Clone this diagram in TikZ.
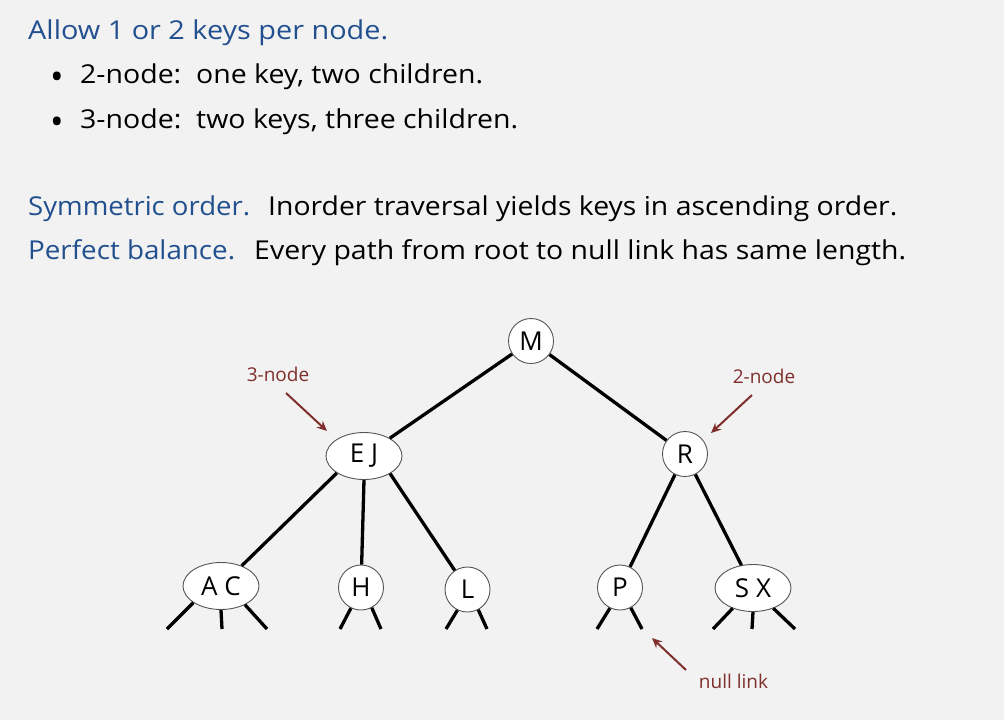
\documentclass[tikz,border=0pt]{standalone}
\usepackage{fontspec}
\setmainfont{Open Sans}
\usetikzlibrary{shapes.geometric,arrows.meta}
\definecolor{bg}{HTML}{F2F2F2}
\definecolor{titleblue}{HTML}{22508F}
\definecolor{annot}{HTML}{7F2F2C}
\definecolor{nodeborder}{HTML}{555555}
\newcommand{\fitw}[2]{\resizebox{#1}{\height}{#2}}
\tikzset{
  txt/.style={anchor=base west,inner sep=0pt,font=\fontsize{26}{30}\selectfont},
  bul/.style={anchor=center,inner sep=0pt,font=\fontsize{36}{36}\selectfont},
  knode/.style={circle,draw=nodeborder,fill=white,line width=0.9pt,minimum size=45pt,inner sep=0pt,font=\fontsize{26}{28}\selectfont},
  kknode/.style={ellipse,draw=nodeborder,fill=white,line width=0.9pt,minimum width=76pt,minimum height=47pt,inner sep=0pt,font=\fontsize{26}{28}\selectfont},
  link/.style={line width=3.3pt,black},
  annarrow/.style={draw=annot,line width=2pt,-{Stealth[length=10pt,width=9pt]}},
  anntext/.style={text=annot,font=\fontsize{19}{21}\selectfont,anchor=base,inner sep=0pt}
}
\begin{document}
\begin{tikzpicture}[x=1pt,y=-1pt]
\fill[bg] (0,0) rectangle (1004,720);
\useasboundingbox (0,0) rectangle (1004,720);

% text
\node[txt,text=titleblue] (t1) at (28,39) {\fitw{360pt}{Allow 1 or 2 keys per node.}};
\node[bul] (b1) at (57,81) {•};
\node[txt] (t2) at (80,83) {\fitw{403pt}{2-node:\ \ one key, two children.}};
\node[bul] (b2) at (57,126) {•};
\node[txt] (t3) at (80,128) {\fitw{438pt}{3-node:\ \ two keys, three children.}};
\node[txt,text=titleblue] (t4a) at (28,215) {\fitw{222pt}{Symmetric order.}};
\node[txt] (t4b) at (268,215) {\fitw{629pt}{Inorder traversal yields keys in ascending order.}};
\node[txt,text=titleblue] (t5a) at (28,259) {\fitw{207pt}{Perfect balance.}};
\node[txt] (t5b) at (254,259) {\fitw{652pt}{Every path from root to null link has same length.}};

% tree nodes
\node[knode] (M) at (531,341) {M};
\node[kknode] (EJ) at (364,456) {E J};
\node[knode] (R) at (685,454) {R};
\node[kknode] (AC) at (221,586) {A C};
\node[knode] (H) at (361,587.5) {H};
\node[knode] (L) at (467.5,589.5) {L};
\node[knode] (P) at (620,587.5) {P};
\node[kknode] (SX) at (753,588) {S X};

% links
\draw[link] (M) -- (EJ);
\draw[link] (M) -- (R);
\draw[link] (EJ.212) -- (AC);
\draw[link] (EJ.south) -- (H);
\draw[link] (EJ.-34) -- (L);
\draw[link] (R) -- (P);
\draw[link] (R) -- (SX);

% null links
\coordinate (ac1) at (167,629);
\coordinate (ac2) at (222,629);
\coordinate (ac3) at (267,629);
\coordinate (h1) at (340,629);
\coordinate (h2) at (381,629);
\coordinate (l1) at (446,629);
\coordinate (l2) at (487,629);
\coordinate (p1) at (597,629);
\coordinate (p2) at (642,629);
\coordinate (sx1) at (713,629);
\coordinate (sx2) at (752,629);
\coordinate (sx3) at (795,629);
\draw[link] (AC.211) -- (ac1);
\draw[link] (AC.south) -- (ac2);
\draw[link] (AC.-38) -- (ac3);
\draw[link] (H.244) -- (h1);
\draw[link] (H.-62) -- (h2);
\draw[link] (L.244) -- (l1);
\draw[link] (L.-62) -- (l2);
\draw[link] (P.244) -- (p1);
\draw[link] (P.-62) -- (p2);
\draw[link] (SX.225) -- (sx1);
\draw[link] (SX.south) -- (sx2);
\draw[link] (SX.-45) -- (sx3);

% annotations
\node[anntext] (n3) at (278,381) {3-node};
\coordinate (n3s) at (286,393);
\coordinate (n3e) at (327,431);
\draw[annarrow] (n3s) -- (n3e);
\node[anntext] (n2) at (764,383) {2-node};
\coordinate (n2s) at (752,395);
\coordinate (n2e) at (711,433);
\draw[annarrow] (n2s) -- (n2e);
\node[anntext] (nl) at (733.5,688) {null link};
\coordinate (nls) at (686,670);
\coordinate (nle) at (652,638);
\draw[annarrow] (nls) -- (nle);
\end{tikzpicture}
\end{document}
